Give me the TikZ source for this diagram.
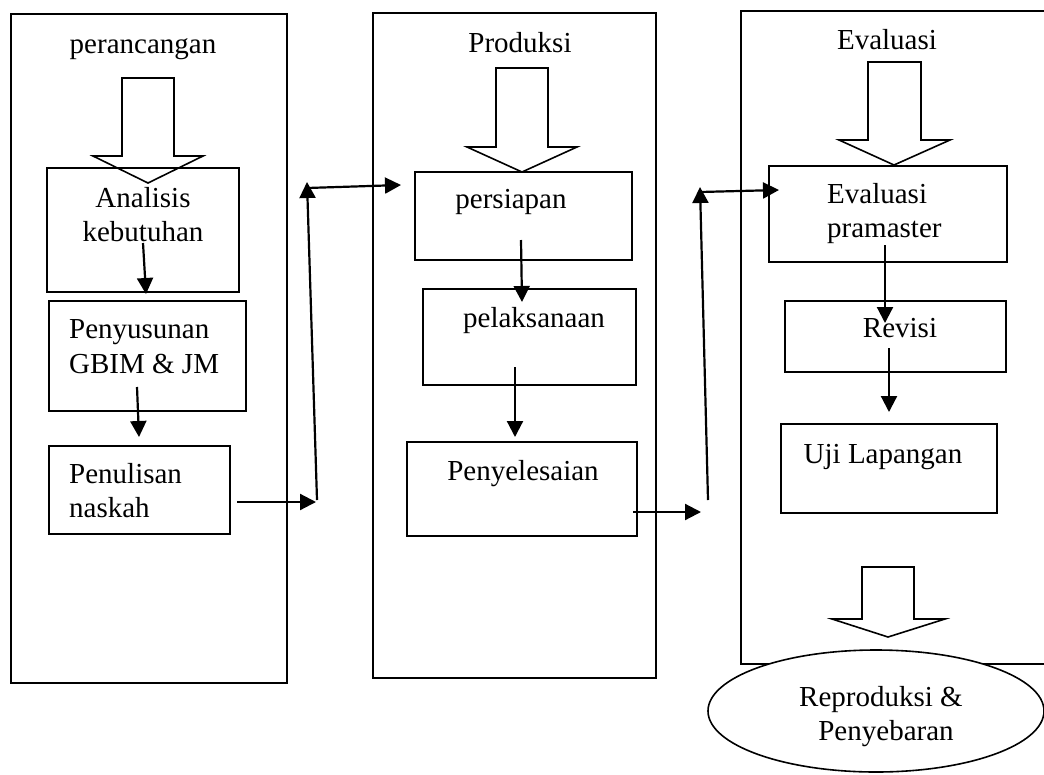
\documentclass[tikz,border=0pt]{standalone}
\usepackage{fontspec}
\setmainfont{Liberation Serif}
\usetikzlibrary{arrows.meta,fit,shapes.geometric}
\tikzset{
  frame/.style={draw, line width=1.6pt, inner sep=0pt},
  boxnode/.style={draw, line width=1.6pt, inner sep=0pt},
  lbl/.style={font=\fontsize{29}{35}\selectfont, inner sep=0pt, anchor=base},
  lbll/.style={lbl, anchor=base west},
  fat/.style={draw, line width=1.6pt, fill=white, line join=miter},
  con/.style={line width=2.2pt, -{Triangle[length=16pt,width=16pt]}},
  seg/.style={line width=2.2pt}
}
\begin{document}
\begin{tikzpicture}[x=1pt,y=-1pt]
\useasboundingbox (0,0) rectangle (1044,774);
% outer columns
\node[frame, fit={(11,14)(287,683)}] (c1) {};
\node[frame, fit={(373,13)(656,678)}] (c2) {};
\coordinate (c3tr) at (1044,11);
\coordinate (c3br) at (1044,664);
\draw[line width=1.6pt] (c3tr) -- (741,11) -- (741,664) -- (c3br);
% titles
\node[lbl] (t1) at (143,53) {perancangan};
\node[lbl] (t2) at (520,52) {Produksi};
\node[lbl] (t3) at (887,49) {Evaluasi};
% block arrows
\draw[fat] (122,78) -- (174,78) -- (174,156) -- (203,156) -- (148,183) -- (93,156) -- (122,156) -- cycle;
\draw[fat] (496,68) -- (548,68) -- (548,147) -- (577,147) -- (522,172) -- (467,147) -- (496,147) -- cycle;
\draw[fat] (868,62) -- (921,62) -- (921,140) -- (950,140) -- (894,165) -- (839,140) -- (868,140) -- cycle;
% column 1 boxes
\node[boxnode, fit={(47,168)(239,292)}] (an) {};
\node[boxnode, fit={(49,301)(246,411)}] (py) {};
\node[boxnode, fit={(49,446)(230,534)}] (pn) {};
\node[lbl] (an1) at (143,207) {Analisis};
\node[lbl] (an2) at (143,241) {kebutuhan};
\node[lbll] (py1) at (69,338) {Penyusunan};
\node[lbll] (py2) at (69,373) {GBIM \& JM};
\node[lbll] (pn1) at (69,483) {Penulisan};
\node[lbll] (pn2) at (69,517) {naskah};
% column 2 boxes
\node[boxnode, fit={(415,172)(632,260)}] (ps) {};
\node[boxnode, fit={(423,289)(636,385)}] (pl) {};
\node[boxnode, fit={(407,442)(637,536)}] (pe) {};
\node[lbl] (ps1) at (511,208) {persiapan};
\node[lbl] (pl1) at (534,327) {pelaksanaan};
\node[lbl] (pe1) at (523,480) {Penyelesaian};
% column 3 boxes
\node[boxnode, fit={(769,166)(1007,262)}] (ev) {};
\node[boxnode, fit={(785,301)(1006,372)}] (rv) {};
\node[boxnode, fit={(781,424)(997,513)}] (uj) {};
\node[lbll] (ev1) at (827,203) {Evaluasi};
\node[lbll] (ev2) at (827,237) {pramaster};
\node[lbl] (rv1) at (900,337) {Revisi};
\node[lbl] (uj1) at (883,463) {Uji Lapangan};
\draw[fat] (862,567) -- (914,567) -- (914,619) -- (945,619) -- (888,637) -- (832,619) -- (862,619) -- cycle;
% ellipse
\node[draw, line width=1.6pt, fill=white, ellipse, minimum width=336pt, minimum height=122pt, inner sep=0pt] (rp) at (876,711) {};
\node[lbl] (rp1) at (881,706) {Reproduksi \&};
\node[lbl] (rp2) at (886,740) {Penyebaran};
% connector coordinates
\coordinate (a1s) at (143,243); \coordinate (a1e) at (146,294);
\coordinate (a2s) at (137,387); \coordinate (a2e) at (139,437);
\coordinate (a3s) at (237,502); \coordinate (a3e) at (316,502);
\coordinate (v1b) at (317,500); \coordinate (v1t) at (307,182);
\coordinate (h1s) at (307,188); \coordinate (h1e) at (401,185);
\coordinate (b1s) at (521,240); \coordinate (b1e) at (522,302);
\coordinate (b2s) at (515,367); \coordinate (b2e) at (515,437);
\coordinate (b3s) at (633,512); \coordinate (b3e) at (701,512);
\coordinate (v2b) at (708,500); \coordinate (v2t) at (700,187);
\coordinate (h2s) at (700,192); \coordinate (h2e) at (779,190);
\coordinate (e1s) at (885,245); \coordinate (e1e) at (885,323);
\coordinate (e2s) at (889,348); \coordinate (e2e) at (889,412);
% connectors
\draw[con] (a1s) -- (a1e);
\draw[con] (a2s) -- (a2e);
\draw[con] (a3s) -- (a3e);
\draw[con] (v1b) -- (v1t);
\draw[con] (h1s) -- (h1e);
\draw[con] (b1s) -- (b1e);
\draw[con] (b2s) -- (b2e);
\draw[con] (b3s) -- (b3e);
\draw[con] (v2b) -- (v2t);
\draw[con] (h2s) -- (h2e);
\draw[con] (e1s) -- (e1e);
\draw[con] (e2s) -- (e2e);
\end{tikzpicture}
\end{document}
